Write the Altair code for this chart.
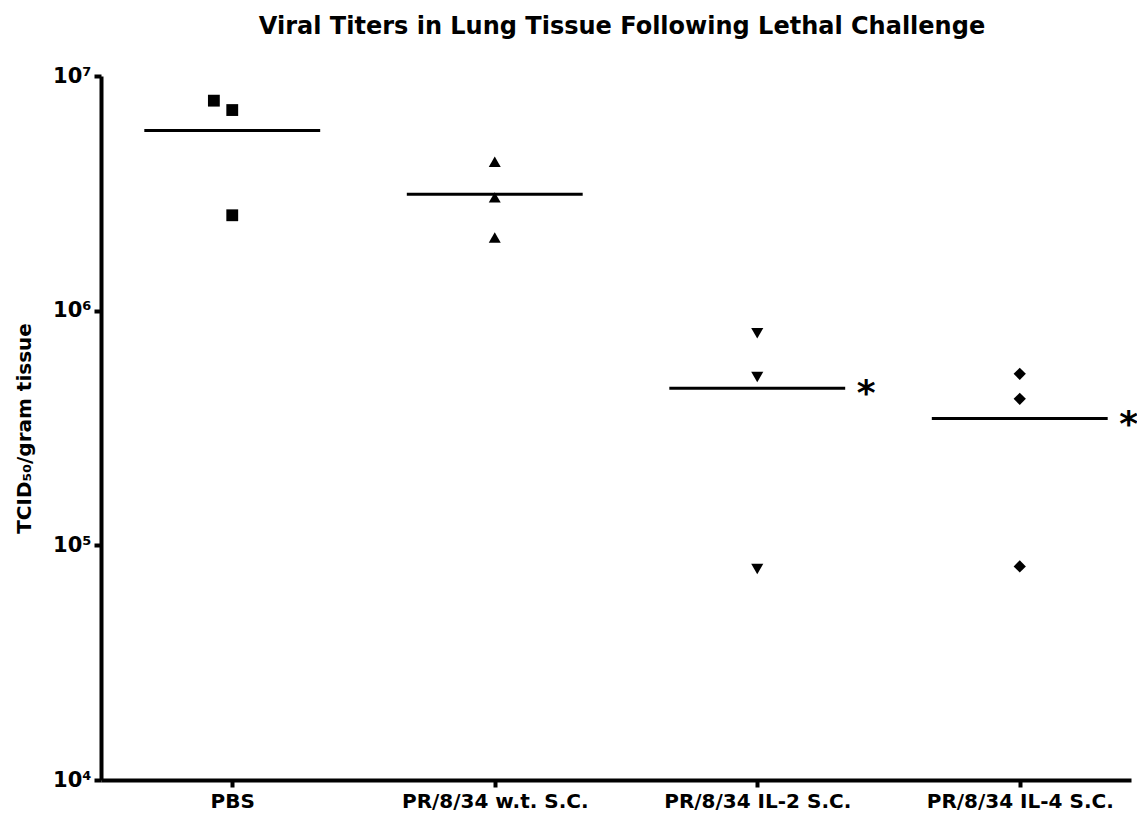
import altair as alt
import pandas as pd
import numpy as np

# ---- data ----
groups = ["PBS", "PR/8/34 w.t. S.C.", "PR/8/34 IL-2 S.C.", "PR/8/34 IL-4 S.C."]
pbs = [7.85e6, 7.16e6, 2.55e6]
wt = [4.31e6, 3.04e6, 2.05e6]
il2 = [8.02e5, 5.21e5, 7.92e4]
il4 = [5.38e5, 4.21e5, 8.13e4]
significant = [False, False, True, True]
y_ticks = [1e4, 1e5, 1e6, 1e7]

series = [pbs, wt, il2, il4]

# points table (with Prism-like horizontal jitter for nearly overlapping points)
rows = []
for gi, vals in enumerate(series):
    vs = sorted(vals, reverse=True)
    for k, v in enumerate(vs):
        shift = 0.0
        if k + 1 < len(vs) and abs(np.log10(v) - np.log10(vs[k + 1])) < 0.08:
            shift = -0.07
        rows.append({"group": groups[gi], "idx": gi, "xpos": gi + shift, "value": v})
points = pd.DataFrame(rows)

half = 0.335
means = pd.DataFrame({
    "group": groups,
    "idx": list(range(len(groups))),
    "mean": [float(np.mean(s)) for s in series],
    "sig": ["*" if s else "" for s in significant],
})
means["x1"] = means["idx"] - half
means["x2"] = means["idx"] + half
means["xs"] = means["idx"] + half + 0.08

FONT = "DejaVu Sans"
PLOT_W = 1030
BAND = 262.5
x_domain = [-0.5, -0.5 + PLOT_W / BAND]
y_scale = alt.Scale(type="log", domain=[1e4, 1e7], nice=False)
x_scale = alt.Scale(domain=x_domain, nice=False, zero=False)

labels_js = "[" + ",".join("'" + g + "'" for g in groups) + "]"

x_axis = alt.Axis(
    values=[0, 1, 2, 3], labelExpr=labels_js + "[datum.value]", title=None, grid=False,
    domainColor="black", domainWidth=4, tickColor="black", tickWidth=4, tickSize=7,
    labelFont=FONT, labelFontWeight="bold", labelFontSize=20, labelColor="black",
    labelPadding=4, labelFlush=False, labelOverlap=False, labelLimit=0,
)
y_axis = alt.Axis(
    values=y_ticks,
    labelExpr="'10' + ['⁰','¹','²','³','⁴','⁵','⁶','⁷'][round(log(datum.value)/LN10)]",
    title="TCID₅₀/gram tissue", grid=False,
    domainColor="black", domainWidth=4, tickColor="black", tickWidth=4, tickSize=7,
    labelFont=FONT, labelFontWeight="bold", labelFontSize=21, labelColor="black",
    labelPadding=3, labelFlush=False, labelOverlap=False, labelLimit=0,
    titleFont=FONT, titleFontWeight="bold", titleFontSize=20, titleColor="black",
    titleAngle=270, titleX=-77, titleY=352, titleAlign="center", titleBaseline="middle",
)

pts = alt.Chart(points).mark_point(filled=True, opacity=1, color="black").encode(
    x=alt.X("xpos:Q", scale=x_scale, axis=x_axis),
    y=alt.Y("value:Q", scale=y_scale, axis=y_axis),
    shape=alt.Shape("group:N", scale=alt.Scale(domain=groups,
                    range=["square", "triangle-up", "triangle-down", "diamond"]), legend=None),
    size=alt.Size("group:N", scale=alt.Scale(domain=groups, range=[140, 150, 140, 105]), legend=None),
)

rules = alt.Chart(means).mark_rule(color="black", strokeWidth=3).encode(
    x=alt.X("x1:Q", scale=x_scale, axis=x_axis),
    x2="x2:Q",
    y=alt.Y("mean:Q", scale=y_scale, axis=y_axis),
)

stars = alt.Chart(means).mark_text(
    font=FONT, fontWeight="bold", fontSize=36, color="black", align="center", baseline="middle", dy=6
).encode(
    x=alt.X("xs:Q", scale=x_scale, axis=x_axis),
    y=alt.Y("mean:Q", scale=y_scale, axis=y_axis),
    text="sig:N",
)

chart = alt.layer(pts, rules, stars).properties(
    width=PLOT_W, height=704,
    autosize=alt.AutoSizeParams(type="none"),
    padding={"left": 93, "top": 68, "right": 6, "bottom": 36},
    background="white",
    title=alt.TitleParams(
        "Viral Titers in Lung Tissue Following Lethal Challenge",
        font=FONT, fontWeight="bold", fontSize=24, color="black",
        anchor="middle", frame="group", offset=26, dx=6,
    ),
).configure_view(strokeWidth=0, stroke=None).configure_axis(grid=False)

chart.save("out.html", embed_options={"renderer": "svg", "actions": False})
